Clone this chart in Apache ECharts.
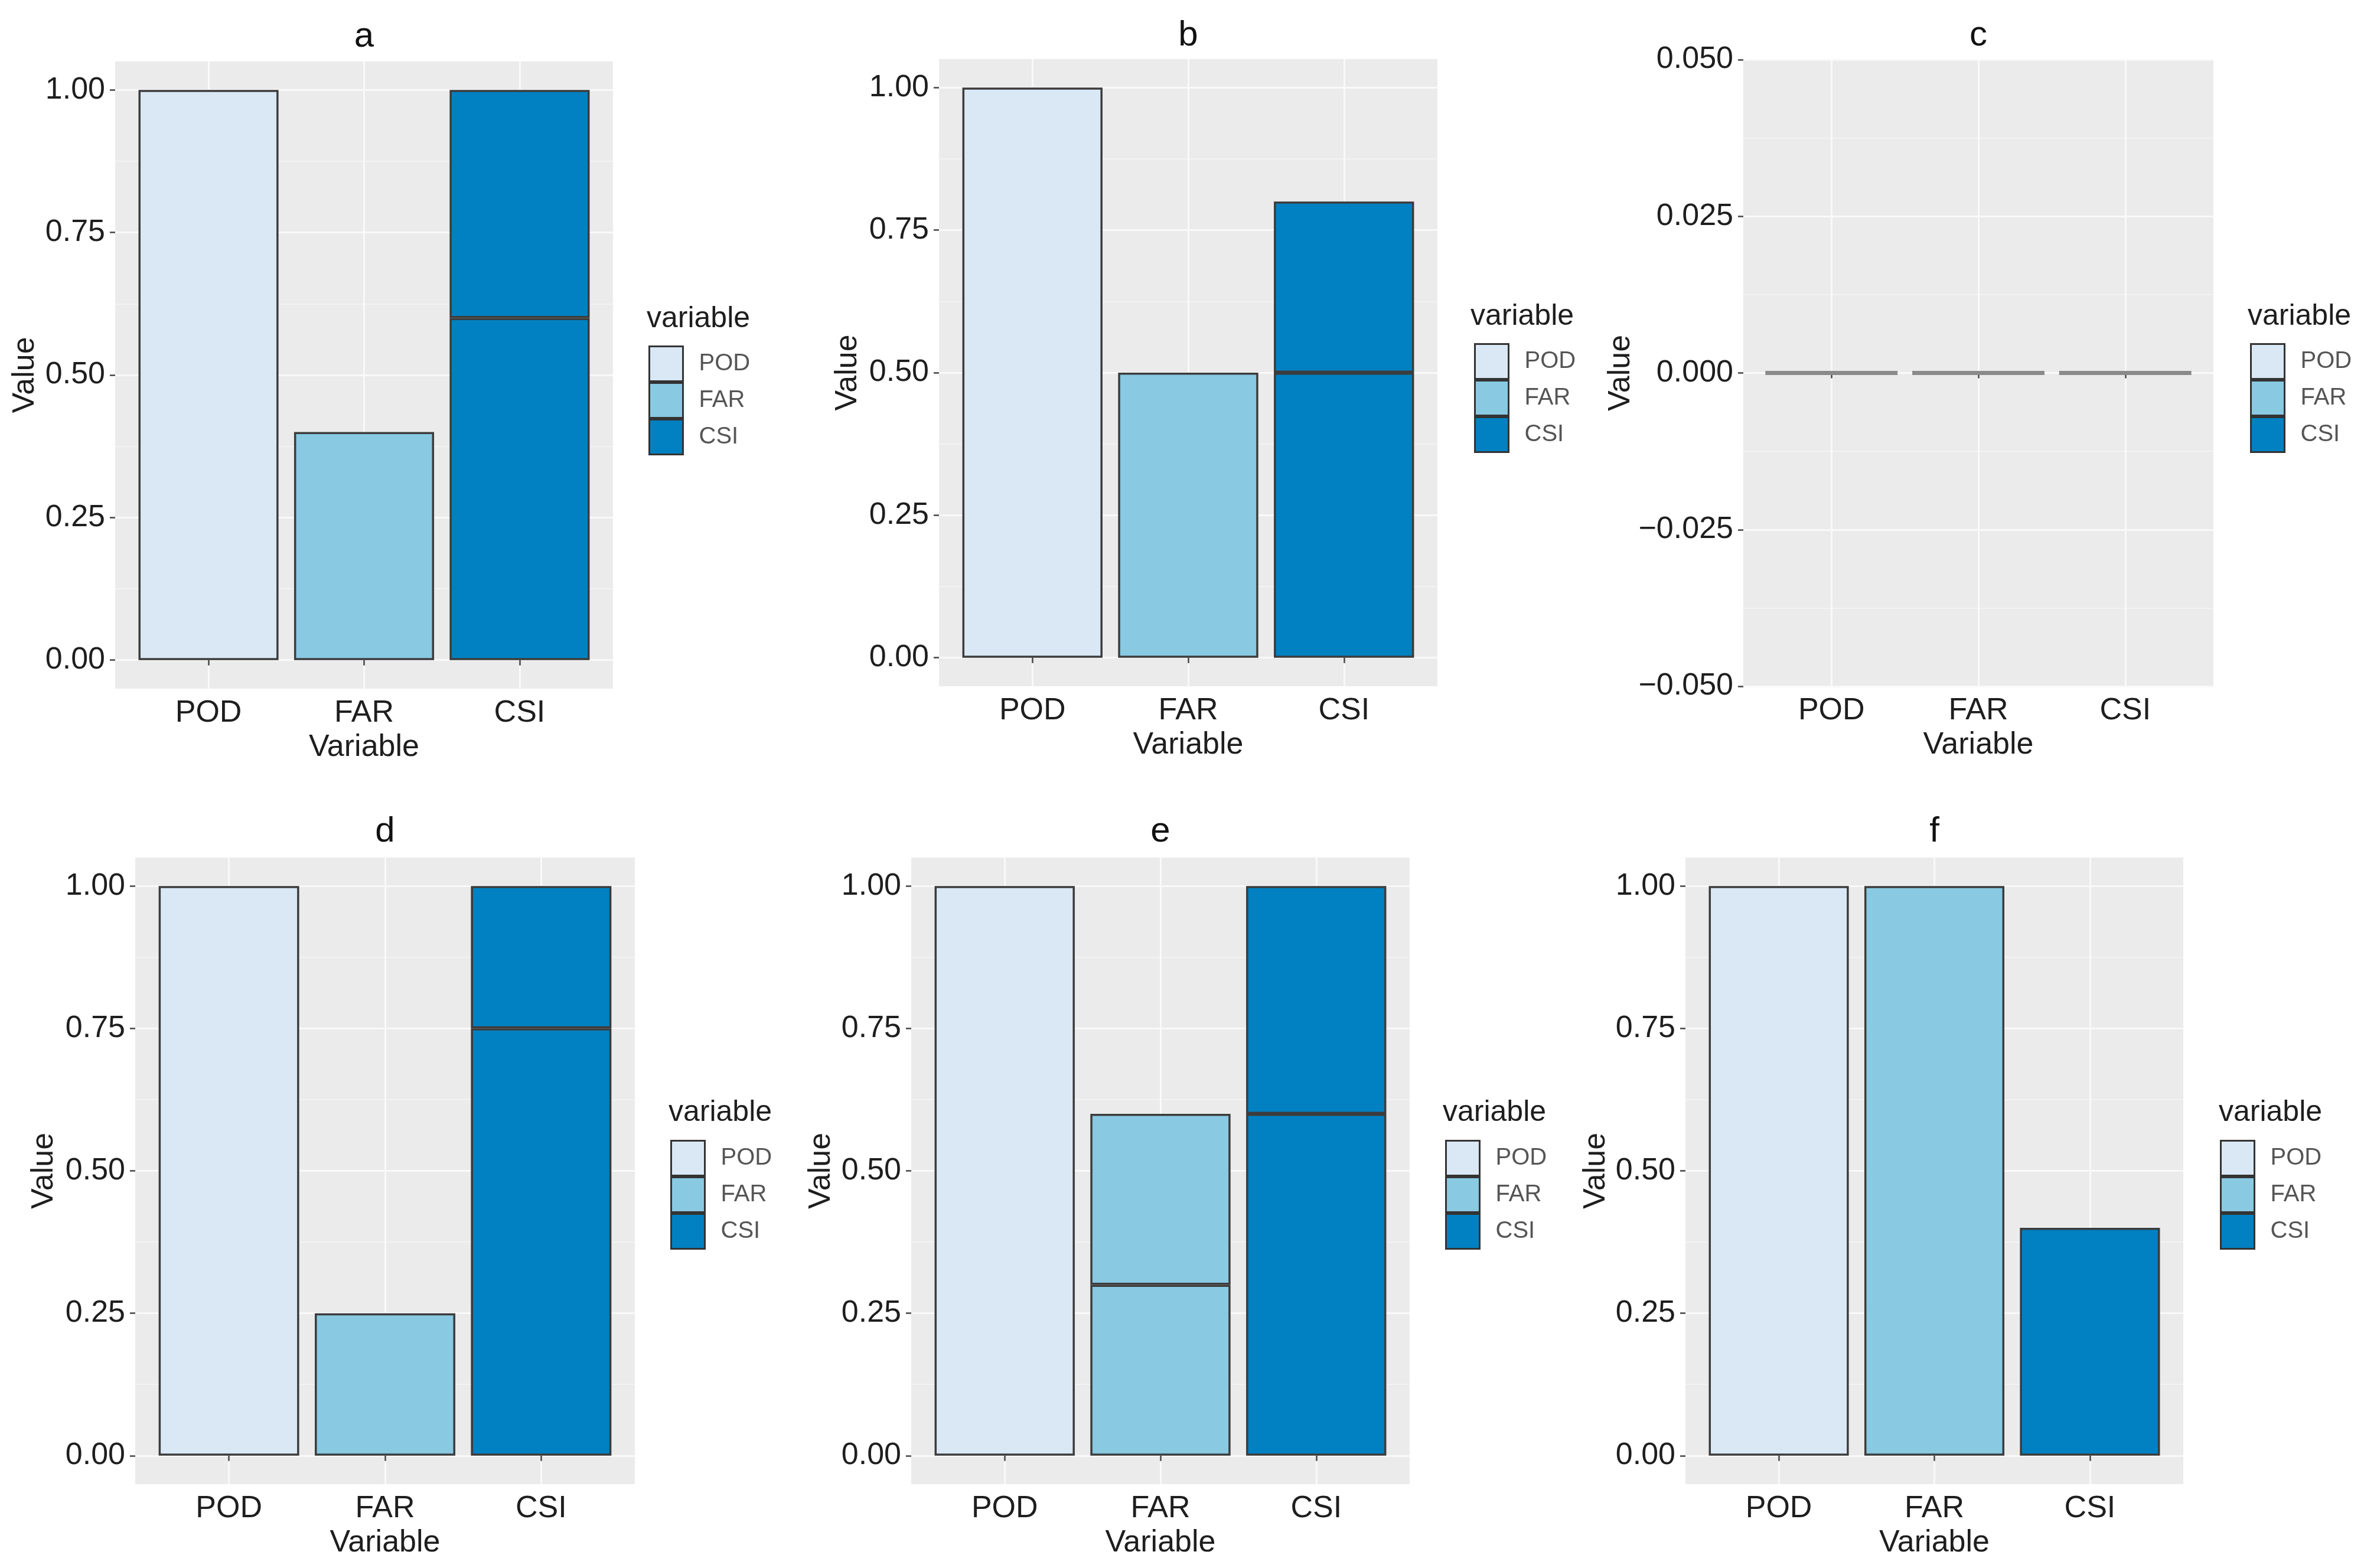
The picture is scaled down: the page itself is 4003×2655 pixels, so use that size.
<!DOCTYPE html>
<html>
<head>
<meta charset="utf-8">
<script src="https://cdn.jsdelivr.net/npm/echarts@6/dist/echarts.min.js"></script>
<style>
html,body{margin:0;padding:0;background:#ffffff;}
#chart{width:4003px;height:2655px;}
</style>
</head>
<body>
<div id="chart"></div>
<script>
// ---------------- data ----------------
const categories = ['POD', 'FAR', 'CSI'];
const panelLabels = ['a', 'b', 'c', 'd', 'e', 'f'];
// stacked segments per category (POD, FAR, CSI), bottom to top
const panelA = [[1.00], [0.40], [0.60, 0.40]];
const panelB = [[1.00], [0.50], [0.50, 0.30]];
const panelC = [[0.00], [0.00], [0.00]];
const panelD = [[1.00], [0.25], [0.75, 0.25]];
const panelE = [[1.00], [0.30, 0.30], [0.60, 0.40]];
const panelF = [[1.00], [1.00], [0.40]];
// tick labels
const xTicks = [1, 2, 3];
const yTicksUnit = [0, 0.25, 0.5, 0.75, 1];
const yMinorUnit = [0.125, 0.375, 0.625, 0.875];
const yTicksZero = [-0.05, -0.025, 0, 0.025, 0.05];
const yMinorZero = [-0.0375, -0.0125, 0.0125, 0.0375];

// ---------------- styling / layout ----------------
const panels = [panelA, panelB, panelC, panelD, panelE, panelF];
const fillColors = ['#DAE8F5', '#89C9E2', '#0181C1'];
const FONT = "'Liberation Sans', Arial, sans-serif";
const layout = [
  {L: 195,  T: 104,  W: 843, H: 1062, legX: 1098, legY: 585,  ltX: 1095, ltY: 540,  tY: 62,   nGap: 152},
  {L: 1590, T: 100,  W: 844, H: 1062, legX: 2496, legY: 581,  ltX: 2490, ltY: 536,  tY: 60,   nGap: 154},
  {L: 2952, T: 101,  W: 796, H: 1061, legX: 3810, legY: 581,  ltX: 3806, ltY: 536,  tY: 60,   nGap: 198},
  {L: 229,  T: 1452, W: 846, H: 1061, legX: 1135, legY: 1930, ltX: 1132, ltY: 1884, tY: 1408, nGap: 154},
  {L: 1543, T: 1452, W: 844, H: 1061, legX: 2447, legY: 1930, ltX: 2443, ltY: 1884, tY: 1408, nGap: 152},
  {L: 2854, T: 1452, W: 843, H: 1061, legX: 3759, legY: 1930, ltX: 3757, ltY: 1884, tY: 1408, nGap: 151}
];

const grid = [], xAxis = [], yAxis = [], series = [], legend = [], graphic = [];

function fmt2(v) { return v.toFixed(2); }
function fmt3(v) { return (v < 0 ? '\u2212' : '') + Math.abs(v).toFixed(3); }

panels.forEach(function (segs, p) {
  const lo = layout[p];
  const isZero = (p === 2);
  const yMin = -0.05, yMax = isZero ? 0.05 : 1.05;
  const majors = isZero ? yTicksZero : yTicksUnit;
  const minors = isZero ? yMinorZero : yMinorUnit;

  // outer panel grid (grey background, axes, gridlines)
  grid.push({left: lo.L, top: lo.T, width: lo.W, height: lo.H, show: true,
    backgroundColor: '#EBEBEB', borderWidth: 0, containLabel: false});
  // inner grid holding the discrete bands (ggplot 0.6 expansion)
  const inset = lo.W * 0.1 / 3.2;
  grid.push({left: lo.L + inset, top: lo.T, width: lo.W * 3 / 3.2, height: lo.H,
    show: false, containLabel: false});

  xAxis.push({
    type: 'value', gridIndex: 2 * p, min: 0.4, max: 3.6, position: 'bottom',
    axisLine: {show: false},
    axisTick: {show: true, customValues: xTicks, length: 9, lineStyle: {color: '#444', width: 2.5}},
    axisLabel: {show: true, customValues: xTicks, margin: 16, fontSize: 52, color: '#1e1e1e', fontFamily: FONT,
      formatter: function (v) { return categories[Math.round(v) - 1]; }},
    splitLine: {show: true, lineStyle: {color: '#f9f9f9', width: 3}},
    name: 'Variable', nameLocation: 'middle', nameGap: 100,
    nameTextStyle: {fontSize: 52, color: '#1e1e1e', fontFamily: FONT, verticalAlign: 'middle'}
  });
  xAxis.push({type: 'category', gridIndex: 2 * p + 1, data: categories, show: false});

  yAxis.push({
    type: 'value', gridIndex: 2 * p, min: yMin, max: yMax, position: 'left',
    axisLine: {show: false},
    axisTick: {show: true, customValues: majors, length: 9, lineStyle: {color: '#444', width: 2.5}},
    axisLabel: {show: true, customValues: majors, margin: 17, fontSize: 52, color: '#1e1e1e', fontFamily: FONT,
      formatter: isZero ? fmt3 : fmt2},
    splitLine: {show: true, lineStyle: {color: '#f9f9f9', width: 3}},
    name: 'Value', nameLocation: 'middle', nameRotate: 90, nameGap: lo.nGap,
    nameTextStyle: {fontSize: 52, color: '#1e1e1e', fontFamily: FONT, verticalAlign: 'middle'}
  });
  yAxis.push({
    type: 'value', gridIndex: 2 * p, min: yMin, max: yMax, position: 'right',
    axisLine: {show: false},
    axisTick: {show: false, customValues: minors},
    axisLabel: {show: false},
    splitLine: {show: true, lineStyle: {color: '#f6f6f6', width: 1.5}}
  });
  yAxis.push({type: 'value', gridIndex: 2 * p + 1, min: yMin, max: yMax, show: false});

  segs.forEach(function (catSegs, i) {
    catSegs.forEach(function (v) {
      series.push({
        type: 'bar', name: categories[i],
        xAxisIndex: 2 * p + 1, yAxisIndex: 3 * p + 2,
        stack: 'stack' + p, barWidth: '90%', silent: true,
        data: categories.map(function (c, j) { return j === i ? v : '-'; }),
        itemStyle: {color: fillColors[i], borderColor: isZero ? '#8a8a8a' : '#3c3c3c',
          borderWidth: isZero ? 7 : 3.5, borderCap: 'round'}
      });
    });
  });

  legend.push({
    show: true, orient: 'vertical', left: lo.legX, top: lo.legY, padding: 0,
    itemWidth: 57, itemHeight: 59, itemGap: 0, icon: 'rect', selectedMode: false,
    data: categories,
    itemStyle: {borderColor: '#333', borderWidth: 3},
    textStyle: {fontSize: 40, color: '#555', fontFamily: FONT, padding: [0, 0, 0, 22]}
  });

  graphic.push({type: 'text', x: lo.L + lo.W / 2, y: lo.tY, silent: true,
    style: {text: panelLabels[p], fontSize: 60, fontFamily: FONT, fill: '#111', align: 'center', verticalAlign: 'middle'}});
  graphic.push({type: 'text', x: lo.ltX, y: lo.ltY, silent: true,
    style: {text: 'variable', fontSize: 50, fontFamily: FONT, fill: '#1e1e1e', align: 'left', verticalAlign: 'middle'}});
});

const chart = echarts.init(document.getElementById('chart'), null, {renderer: 'canvas'});
chart.setOption({
  animation: false,
  backgroundColor: '#ffffff',
  grid: grid, xAxis: xAxis, yAxis: yAxis, series: series, legend: legend, graphic: graphic
});
</script>
</body>
</html>
